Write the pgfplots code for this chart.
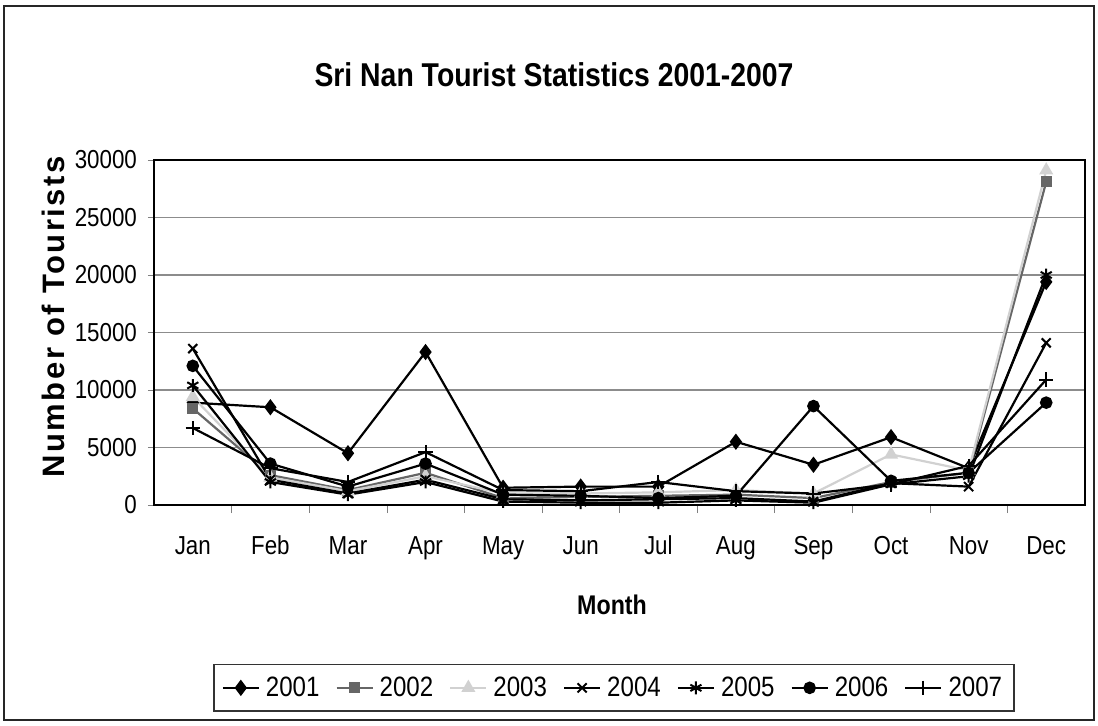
\documentclass[border=0pt]{standalone}
\usepackage{fontspec}
\setmainfont{Liberation Sans}[FakeStretch=0.86]
\newfontfamily\spacedfont{Liberation Sans}[LetterSpace=8]
\usepackage{pgfplots}
\pgfplotsset{compat=1.18}
\usepackage{pgfplotstable}

% Monthly tourist numbers, Sri Nan, 2001-2007
\pgfplotstableread{
m  y2001 y2002 y2003 y2004 y2005 y2006 y2007
1  8900  8400  9400  13600 10400 12100 6700
2  8500  2600  2400  2200  2000  3600  3200
3  4500  1300  1200  1000  900   1600  2000
4  13300 2800  2500  2200  2000  3600  4600
5  1500  600   1000  500   300   900   1300
6  1600  700   1000  400   200   800   1200
7  1600  800   1100  500   200   600   2000
8  5500  900   1300  600   400   800   1200
9  3500  600   1000  300   200   8600  1000
10 5900  2000  4400  1900  1800  2100  1800
11 3200  2800  3000  1600  2500  2800  3400
12 19400 28100 29100 14100 20000 8900  10900
}\datatable

\definecolor{grayA}{gray}{0.40}
\definecolor{grayB}{gray}{0.82}
\definecolor{gridgray}{gray}{0.55}

\begin{document}
\begin{tikzpicture}
\path[use as bounding box] (0,0) rectangle (549pt,362.5pt);
\draw[line width=1pt, black!85] (2pt,2.5pt) rectangle (547pt,359.5pt);
\node[font=\bfseries\fontsize{16.5}{20}\selectfont] at (277pt,325pt) {Sri Nan Tourist Statistics 2001-2007};
\begin{axis}[
  at={(77pt,110pt)}, anchor=south west,
  scale only axis, width=465.5pt, height=172.5pt,
  xmin=0.5, xmax=12.5, ymin=0, ymax=30000,
  xtick={1,...,12},
  xticklabels={Jan,Feb,Mar,Apr,May,Jun,Jul,Aug,Sep,Oct,Nov,Dec},
  minor xtick={1.5,2.5,...,11.5},
  ytick={0,5000,...,30000},
  scaled y ticks=false,
  major x tick style={draw=none},
  minor tick length=4pt, major tick length=3pt,
  tick align=outside, tick pos=left,
  ymajorgrids, grid style={gridgray, line width=0.6pt},
  axis line style={line width=0.8pt},
  /pgf/number format/assume math mode=true,
  /pgf/number format/1000 sep={},
  ticklabel style={font=\fontsize{13}{15}\selectfont},
  xticklabel style={yshift=-9pt, text depth=0pt, text height=9pt},
  yticklabel style={xshift=-2pt},
  xlabel={Month},
  xlabel style={font=\bfseries\fontsize{13.5}{16}\selectfont, at={(axis description cs:0.492,-0.29)}, anchor=center},
  ylabel={\spacedfont\bfseries Number of Tourists},
  ylabel style={font=\fontsize{15.5}{18}\selectfont, at={(axis description cs:-0.1085,0.545)}, anchor=center},
  legend columns=7,
  legend style={at={(axis description cs:0.494,-0.53)}, anchor=center,
    font=\fontsize{14}{16}\selectfont, draw=black!80, line width=0.8pt,
    inner xsep=4pt, inner ysep=4pt,
    /tikz/every even column/.append style={column sep=6pt},
    /tikz/every odd column/.append style={column sep=1pt}},
  legend image code/.code={
    \draw[mark repeat=2, mark phase=2, #1] plot coordinates {(0pt,0pt) (9pt,0pt) (18pt,0pt)};},
  every axis plot/.append style={line width=1.1pt},
]
\addplot[black, mark=diamond*, mark size=3.2pt] table[x=m, y=y2001] {\datatable};
\addlegendentry{2001}
\addplot[grayA, mark=square*, mark size=2.2pt] table[x=m, y=y2002] {\datatable};
\addlegendentry{2002}
\addplot[grayB, mark=triangle*, mark size=3pt] table[x=m, y=y2003] {\datatable};
\addlegendentry{2003}
\addplot[black, mark=x, mark size=3.2pt, mark options={line width=1pt}] table[x=m, y=y2004] {\datatable};
\addlegendentry{2004}
\addplot[black, mark=asterisk, mark size=3.2pt, mark options={line width=1pt}] table[x=m, y=y2005] {\datatable};
\addlegendentry{2005}
\addplot[black, mark=*, mark size=2.6pt] table[x=m, y=y2006] {\datatable};
\addlegendentry{2006}
\addplot[black, mark=+, mark size=3.6pt, mark options={line width=1pt}] table[x=m, y=y2007] {\datatable};
\addlegendentry{2007}
\end{axis}
\end{tikzpicture}
\end{document}
